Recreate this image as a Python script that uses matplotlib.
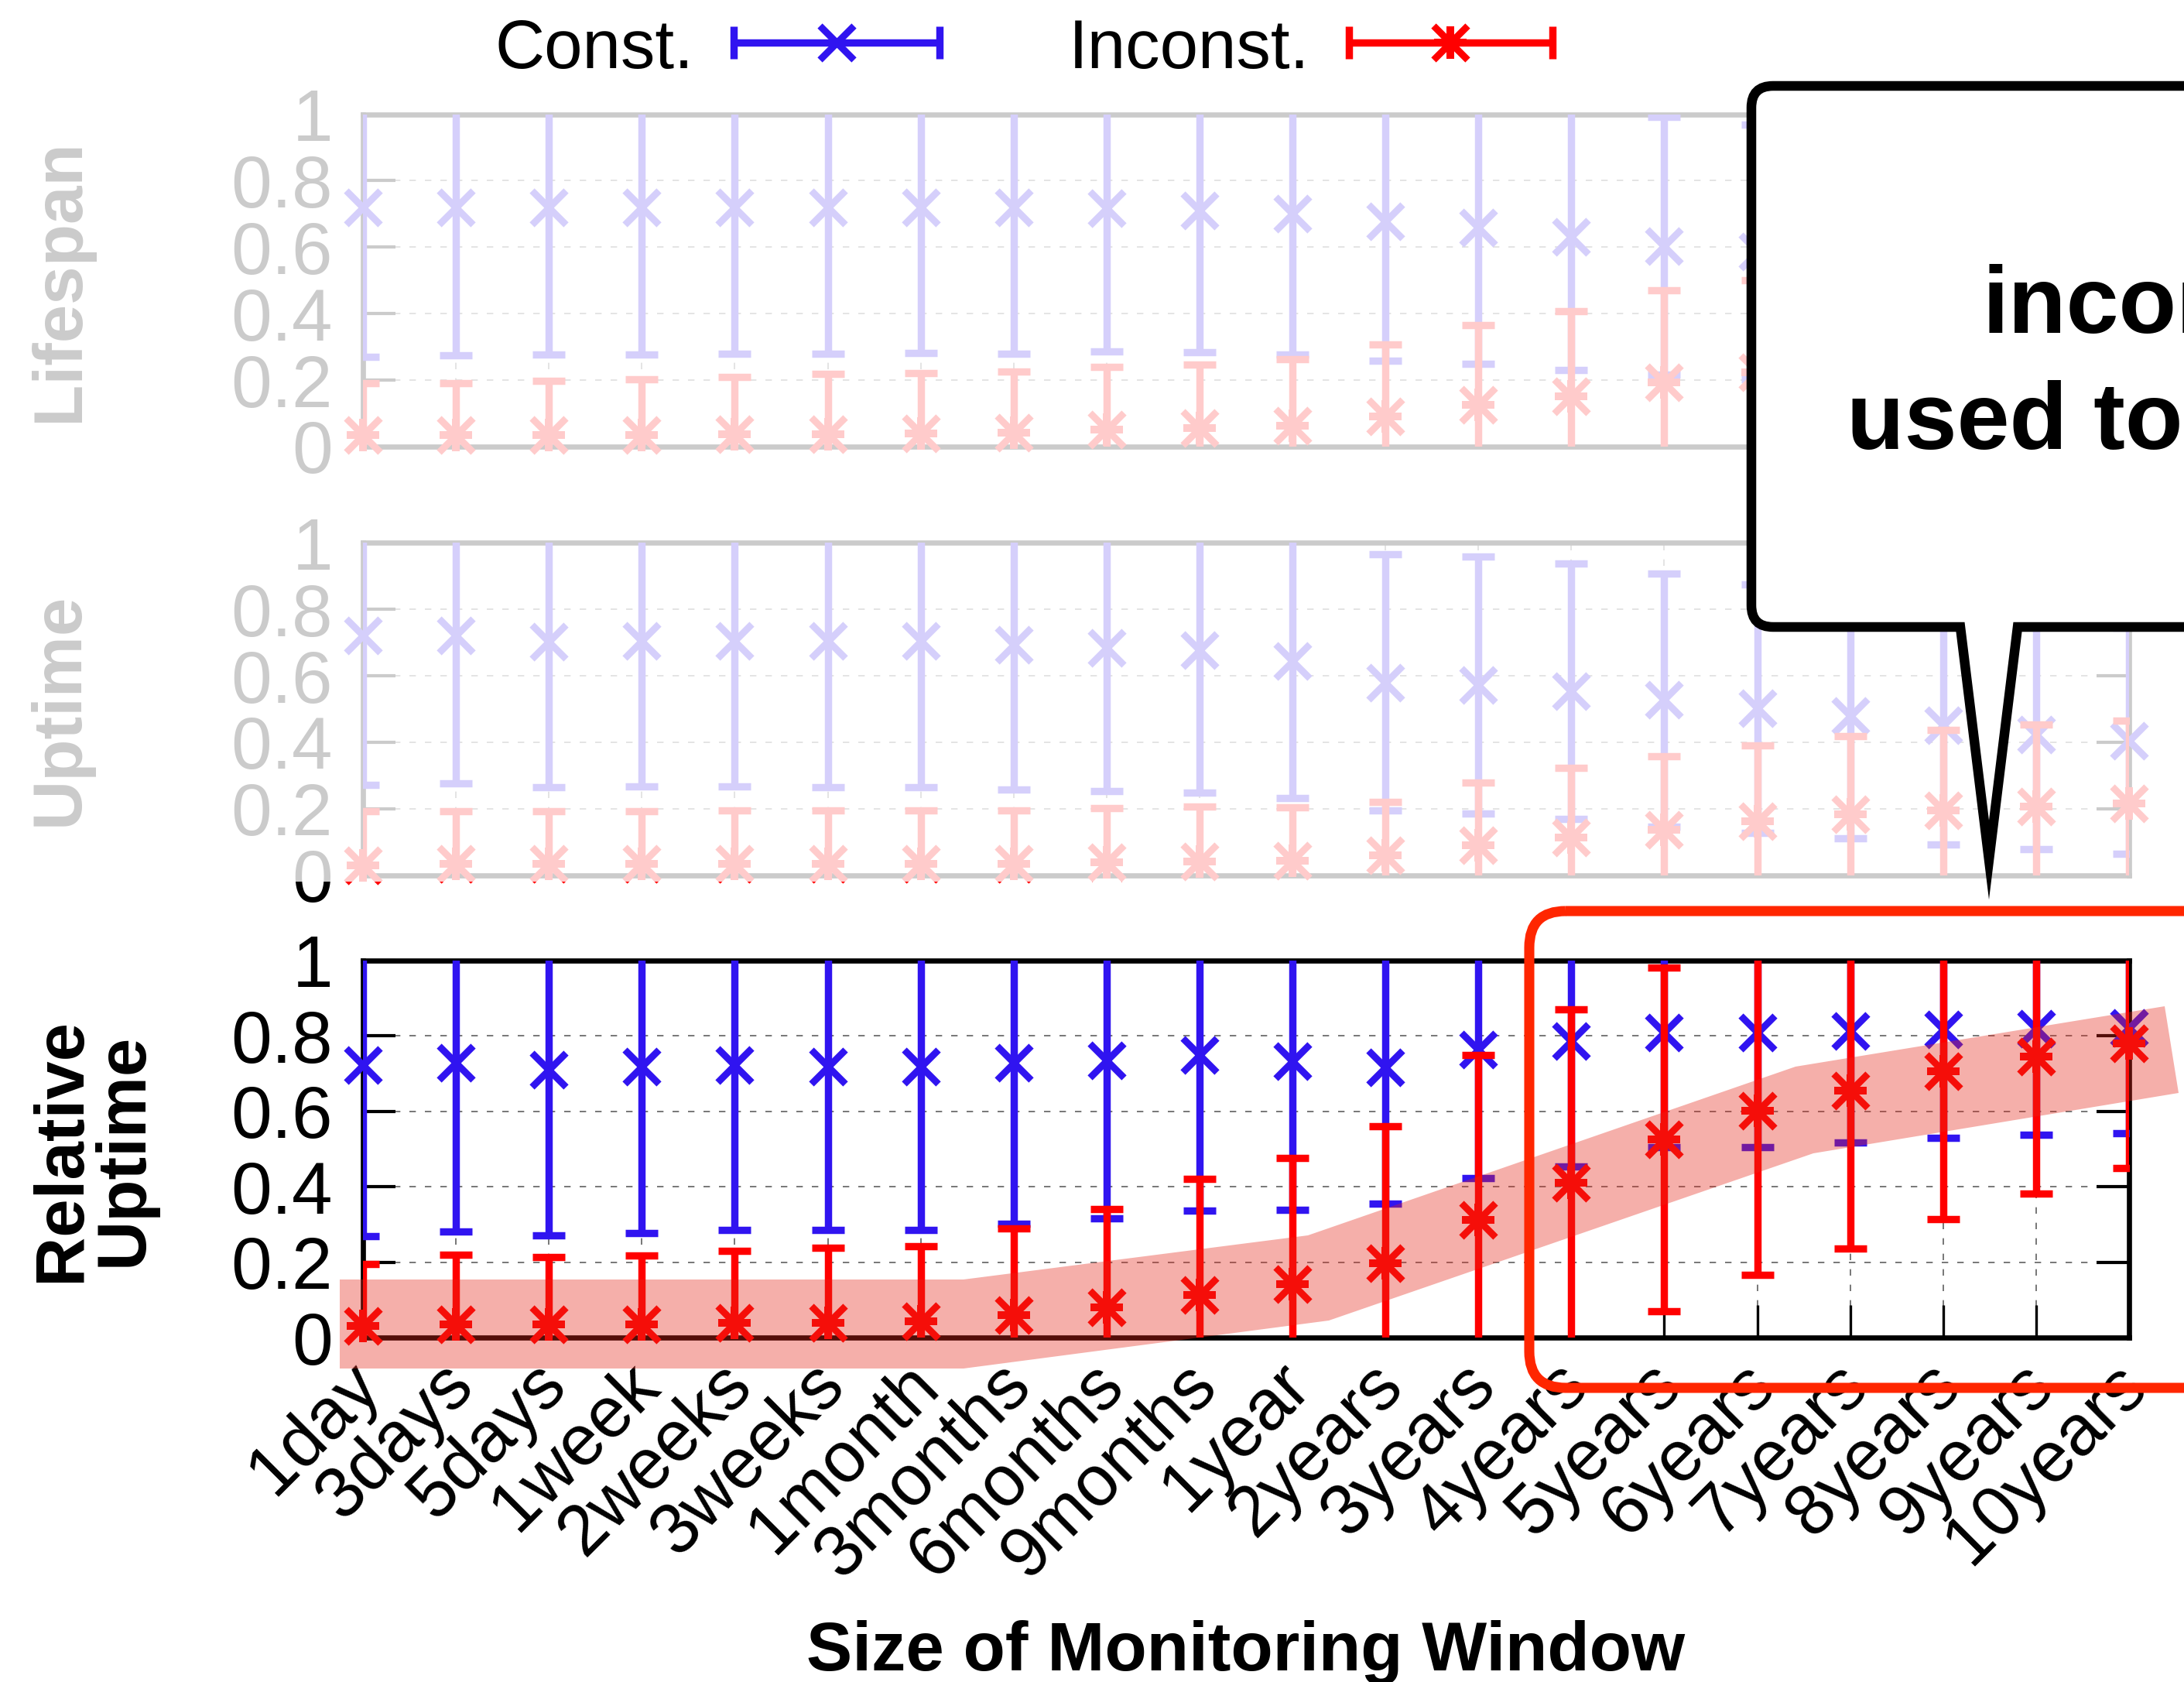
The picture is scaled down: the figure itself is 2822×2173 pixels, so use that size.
import matplotlib
matplotlib.use('Agg')
import matplotlib.pyplot as plt
import matplotlib.transforms as mtransforms
import numpy as np
from matplotlib.patches import Polygon, PathPatch, FancyBboxPatch, Rectangle
from matplotlib.path import Path

plt.rcParams['font.family'] = ['Liberation Sans', 'DejaVu Sans']

categories = ['1day', '3days', '5days', '1week', '2weeks', '3weeks', '1month',
              '3months', '6months', '9months', '1year', '2years', '3years',
              '4years', '5years', '6years', '7years', '8years', '9years', '10years']

# Lifespan panel (mean, std)
lifespan_const_mean = [0.72, 0.72, 0.72, 0.72, 0.72, 0.72, 0.72, 0.72, 0.717, 0.711,
                       0.702, 0.677, 0.659, 0.63, 0.604, 0.586, 0.565, 0.545, 0.525, 0.51]
lifespan_const_std = [0.45, 0.446, 0.444, 0.444, 0.441, 0.44, 0.439, 0.44, 0.431, 0.428,
                      0.425, 0.418, 0.41, 0.40, 0.388, 0.383, 0.38, 0.375, 0.37, 0.365]
lifespan_incon_mean = [0.035, 0.034, 0.035, 0.036, 0.037, 0.038, 0.04, 0.042, 0.052, 0.056,
                       0.063, 0.09, 0.125, 0.152, 0.194, 0.224, 0.25, 0.27, 0.29, 0.31]
lifespan_incon_std = [0.157, 0.158, 0.162, 0.167, 0.173, 0.18, 0.181, 0.183, 0.187, 0.192,
                      0.201, 0.218, 0.241, 0.256, 0.276, 0.276, 0.28, 0.285, 0.29, 0.295]

# Uptime panel (mean, std)
uptime_const_mean = [0.72, 0.72, 0.702, 0.705, 0.705, 0.704, 0.704, 0.693, 0.683, 0.676,
                     0.644, 0.58, 0.573, 0.553, 0.527, 0.502, 0.48, 0.451, 0.424, 0.405]
uptime_const_std = [0.449, 0.444, 0.438, 0.438, 0.438, 0.439, 0.44, 0.435, 0.43, 0.427,
                    0.411, 0.384, 0.386, 0.384, 0.38, 0.373, 0.369, 0.359, 0.346, 0.339]
uptime_incon_mean = [0.031, 0.036, 0.034, 0.034, 0.036, 0.036, 0.036, 0.036, 0.04, 0.043,
                     0.044, 0.06, 0.091, 0.114, 0.138, 0.162, 0.184, 0.195, 0.207, 0.217]
uptime_incon_std = [0.163, 0.158, 0.16, 0.16, 0.16, 0.16, 0.16, 0.16, 0.162, 0.163,
                    0.16, 0.162, 0.187, 0.209, 0.22, 0.229, 0.234, 0.243, 0.247, 0.247]

# Relative uptime panel (mean, std)
rel_const_mean = [0.723, 0.728, 0.711, 0.719, 0.723, 0.719, 0.719, 0.728, 0.736, 0.749,
                  0.734, 0.717, 0.763, 0.786, 0.809, 0.809, 0.813, 0.817, 0.82, 0.821]
rel_const_std = [0.453, 0.447, 0.439, 0.442, 0.438, 0.434, 0.434, 0.426, 0.419, 0.413,
                 0.395, 0.361, 0.339, 0.332, 0.304, 0.303, 0.296, 0.288, 0.281, 0.278]
rel_incon_mean = [0.03, 0.034, 0.034, 0.034, 0.038, 0.038, 0.043, 0.06, 0.081, 0.113,
                  0.142, 0.198, 0.313, 0.411, 0.525, 0.602, 0.655, 0.706, 0.745, 0.78]
rel_incon_std = [0.166, 0.185, 0.18, 0.183, 0.193, 0.2, 0.2, 0.229, 0.259, 0.308,
                 0.335, 0.362, 0.436, 0.46, 0.456, 0.436, 0.418, 0.391, 0.364, 0.331]

yticks = [0, 0.2, 0.4, 0.6, 0.8, 1.0]
ytick_labels = ['0', '0.2', '0.4', '0.6', '0.8', '1']

W, H = 2822, 2173
DPI = 200
fig = plt.figure(figsize=(W / DPI, H / DPI), dpi=DPI)

BLUE = '#3014F0'
RED = '#FF0000'
FS = 32
TFS = 34
XFS = 33
MS, MEW = 16, 3.2


def px_rect(x0, y_top, x1, y_bot):
    return [x0 / W, 1 - y_bot / H, (x1 - x0) / W, (y_bot - y_top) / H]


ax_top = fig.add_axes(px_rect(469, 147.6, 2751, 577))
ax_mid = fig.add_axes(px_rect(469, 701, 2751, 1131))
ax_bot = fig.add_axes(px_rect(469, 1241, 2751, 1728))

xpos = np.arange(len(categories))


def draw_panel(ax, cm, cs, im, ist):
    ax.set_xlim(0, len(categories) - 1)
    ax.set_ylim(0, 1)
    ax.set_axisbelow(True)
    ax.grid(True, color='#606060', lw=0.6, linestyle=(0, (5, 7)))
    series = [(cm, cs, BLUE, 3, False), (im, ist, RED, 5, True)]
    for mean, std, color, z, plus in series:
        ax.errorbar(xpos, mean, yerr=std, fmt='none', ecolor=color, elinewidth=3.4,
                    capsize=7.6, capthick=3.4, zorder=z)
        ax.plot(xpos, mean, ls='none', marker='x', ms=MS, mew=MEW, color=color,
                clip_on=False, zorder=z + 0.5)
        if plus:
            ax.plot(xpos, mean, ls='none', marker='+', ms=15, mew=3.6, color=color,
                    clip_on=False, zorder=z + 0.5)
    for sp in ax.spines.values():
        sp.set_linewidth(2.4)
        sp.set_color('black')
    ax.set_yticks(yticks)
    ax.set_yticklabels(ytick_labels)
    ax.tick_params(axis='y', direction='in', length=15, width=1.5, left=True, right=True,
                   labelsize=TFS, pad=14)
    ax.set_xticks(xpos)
    ax.tick_params(axis='x', direction='in', length=15, width=1.2, bottom=True, top=False)


draw_panel(ax_top, lifespan_const_mean, lifespan_const_std, lifespan_incon_mean, lifespan_incon_std)
draw_panel(ax_mid, uptime_const_mean, uptime_const_std, uptime_incon_mean, uptime_incon_std)
draw_panel(ax_bot, rel_const_mean, rel_const_std, rel_incon_mean, rel_incon_std)

ax_top.tick_params(axis='x', labelbottom=False)
ax_mid.tick_params(axis='x', labelbottom=False)
ax_bot.set_xticklabels(categories, rotation=45, ha='right', rotation_mode='anchor', fontsize=XFS)
ax_bot.tick_params(axis='x', pad=12)
shift = mtransforms.ScaledTranslation(-22 / DPI, 16 / DPI, fig.dpi_scale_trans)
for lab in ax_bot.get_xticklabels():
    lab.set_transform(lab.get_transform() + shift)

# Axis labels
fig.text(78 / W, 1 - 362 / H, 'Lifespan', rotation=90, ha='center', va='center',
         fontsize=FS, fontweight='bold')
fig.text(78 / W, 1 - 916 / H, 'Uptime', rotation=90, ha='center', va='center',
         fontsize=FS, fontweight='bold')
fig.text(120 / W, 1 - 1485 / H, 'Relative\nUptime', rotation=90, ha='center', va='center',
         fontsize=FS, fontweight='bold', linespacing=0.95, multialignment='center')
fig.text(1610 / W, 1 - 2158 / H, 'Size of Monitoring Window', ha='center', va='baseline',
         fontsize=FS, fontweight='bold')

# Overlay (pixel coordinates)
ov = fig.add_axes([0, 0, 1, 1], zorder=10)
ov.set_xlim(0, W)
ov.set_ylim(H, 0)
ov.axis('off')
ov.patch.set_alpha(0)

# fade of the two upper panels
ov.add_patch(Rectangle((0, 100), W, 1039, fc='white', ec='none', alpha=0.8, zorder=1))

# highlight band
band = [(439, 1653), (1245, 1653), (1690, 1596), (2320, 1378), (2797, 1300), (2815, 1412),
        (2343, 1490), (1717, 1706), (1245, 1768), (439, 1768)]
ov.add_patch(Polygon(band, closed=True, fc=(228 / 255, 39 / 255, 25 / 255), ec='none',
                     alpha=0.37, zorder=2))

# red rounded rectangle
ov.add_patch(FancyBboxPatch((1976, 1177), 1100, 616, boxstyle='round,pad=0,rounding_size=47',
                            fc='none', ec='#FF2600', lw=4.7, zorder=3))

# callout
L, T, B, R, r = 2263, 111, 810, 3100, 28
verts = [(L + r, T), (R, T), (R, B), (2607, B), (2570, 1111), (2533, B), (L + r, B),
         (L, B), (L, B - r), (L, T + r), (L, T), (L + r, T), (L + r, T)]
codes = [Path.MOVETO, Path.LINETO, Path.LINETO, Path.LINETO, Path.LINETO, Path.LINETO,
         Path.LINETO, Path.CURVE3, Path.CURVE3, Path.LINETO, Path.CURVE3, Path.CURVE3,
         Path.CLOSEPOLY]
ov.add_patch(PathPatch(Path(verts, codes), fc='white', ec='black', lw=4.5,
                       joinstyle='miter', zorder=4))
ov.text(2562, 430, 'inconsistent', fontsize=44, fontweight='bold', ha='left',
        va='baseline', zorder=5)
ov.text(2386, 580, 'used to be', fontsize=44, fontweight='bold', ha='left',
        va='baseline', zorder=5)

# legend
ov.text(896, 88, 'Const.', fontsize=FS, ha='right', va='baseline', zorder=6)
ov.text(1692, 88, 'Inconst.', fontsize=FS, ha='right', va='baseline', zorder=6)
ov.errorbar([1081], [55], xerr=[133], fmt='none', ecolor=BLUE, elinewidth=3.4,
            capsize=7.6, capthick=3.4, zorder=6)
ov.plot([1081], [55], ls='none', marker='x', ms=MS, mew=MEW, color=BLUE, zorder=6.5)
ov.errorbar([1874], [55], xerr=[131.5], fmt='none', ecolor=RED, elinewidth=3.4,
            capsize=7.6, capthick=3.4, zorder=6)
ov.plot([1874], [55], ls='none', marker='x', ms=MS, mew=MEW, color=RED, zorder=6.5)
ov.plot([1874], [55], ls='none', marker='+', ms=15, mew=3.6, color=RED, zorder=6.5)

fig.savefig('out.png', dpi=DPI)
